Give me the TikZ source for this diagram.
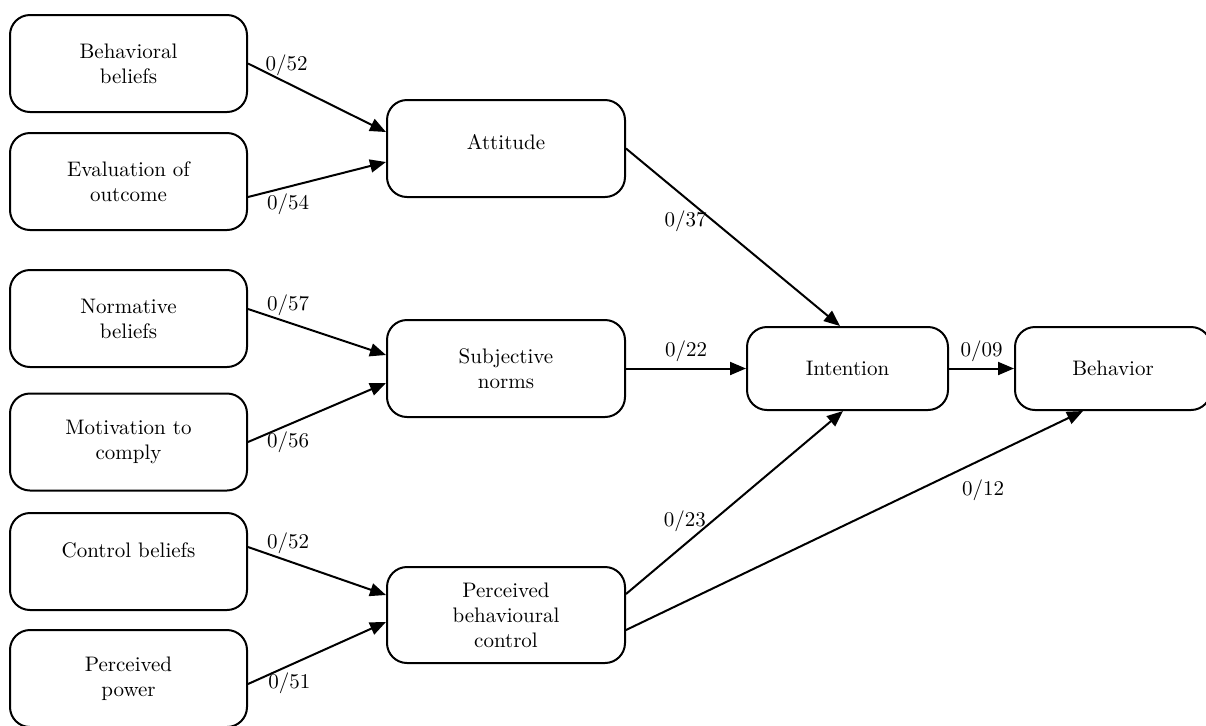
\documentclass[tikz,border=0pt]{standalone}
\usepackage{amsmath}
\usetikzlibrary{arrows.meta}

\begin{document}
\begin{tikzpicture}[
		x=0.5pt,y=-0.5pt,
		every node/.style={font=\fontsize{10.5}{12.5}\selectfont},
		box/.style={draw,line width=1pt,rounded corners=10pt,align=center,minimum width=118.5pt,minimum height=48.5pt},
		outbox/.style={box,minimum width=100.5pt,minimum height=41.5pt},
		raised/.style={text depth=#1},
		path/.style={line width=1pt,-{Triangle[length=8pt,width=6.5pt]}},
		weight/.style={inner sep=3pt}
		]
		\useasboundingbox (0,0) rectangle (1206,725);
		\node[box] (bb) at (128.5,63.5) {Behavioral\\beliefs};
		\node[box] (eo) at (128.5,181.5) {Evaluation of\\outcome};
		\node[box] (nb) at (128.5,318.5) {Normative\\beliefs};
		\node[box] (mc) at (128.5,442) {Motivation to\\comply};
		\node[box,raised=11pt] (cb) at (128.5,561.5) {Control beliefs};
		\node[box] (pp) at (128.5,678.5) {Perceived\\power};
		\node[box,minimum width=119pt,raised=6.5pt] (att) at (506,148.5) {Attitude};
		\node[box,minimum width=119pt] (sn) at (506,368.5) {Subjective\\norms};
		\node[box,minimum width=119pt,minimum height=48pt] (pbc) at (506,615) {Perceived\\behavioural\\control};
		\node[outbox] (int) at (847.5,368.5) {Intention};
		\node[outbox,minimum width=98pt] (beh) at (1113,368.5) {Behavior};
		\draw[path] (bb.east) -- node[weight,pos=0.28,above] {0/52} ([yshift=8.25pt]att.west);
		\draw[path] ([yshift=-7.75pt]eo.east) -- node[weight,pos=0.29,below] {0/54} ([yshift=-6.75pt]att.west);
		\draw[path] ([yshift=4.75pt]nb.east) -- node[weight,pos=0.29,above] {0/57} ([yshift=6.75pt]sn.west);
		\draw[path] (mc.east) -- node[weight,pos=0.29,below] {0/56} ([yshift=-7.25pt]sn.west);
		\draw[path] ([yshift=7.25pt]cb.east) -- node[weight,pos=0.29,above] {0/52} ([yshift=10pt]pbc.west);
		\draw[path] ([yshift=-2.75pt]pp.east) -- node[weight,pos=0.3,below] {0/51} ([yshift=-3.5pt]pbc.west);
		\draw[path] (att.east) -- node[weight,pos=0.41,left] {0/37} ([xshift=-3.75pt]int.north);
		\draw[path] (sn.east) -- node[weight,midway,above] {0/22} (int.west);
		\draw[path] (int.east) -- node[weight,midway,above] {0/09} (beh.west);
		\draw[path] ([yshift=10.5pt]pbc.east) -- node[weight,pos=0.4,left] {0/23} ([xshift=-2.25pt]int.south);
		\draw[path] ([yshift=-7.5pt]pbc.east) -- node[weight,pos=0.72,below right] {0/12} ([xshift=-15pt]beh.south);
	\end{tikzpicture}
\end{document}
